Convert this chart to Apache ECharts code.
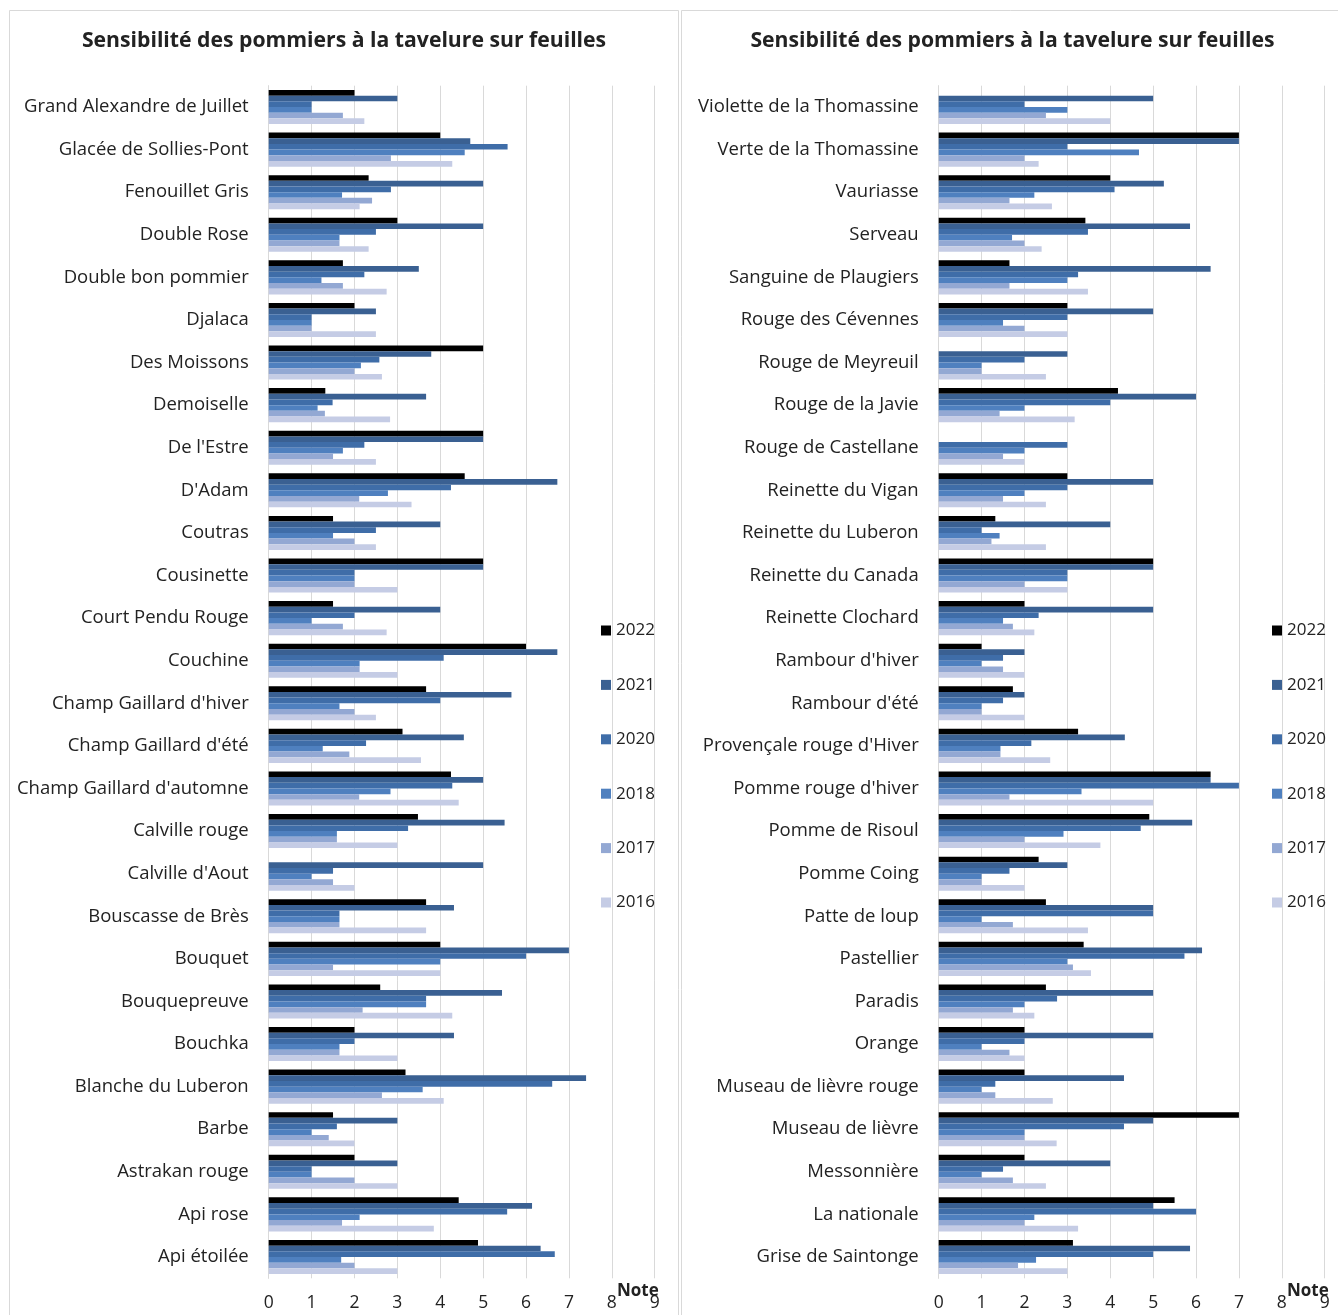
<!DOCTYPE html>
<html>
<head>
<meta charset="utf-8">
<script src="https://cdn.jsdelivr.net/npm/echarts@6/dist/echarts.min.js"></script>
<style>
  html, body { margin: 0; padding: 0; background: #ffffff; }
  #chart { width: 1338px; height: 1315px; }
</style>
</head>
<body>
<div id="chart"></div>
<script>
// Scab sensitivity scores (note 0-9) on apple leaves, per variety and year.
const years = ['2022', '2021', '2020', '2018', '2017', '2016'];
const noteTicks = [0, 1, 2, 3, 4, 5, 6, 7, 8, 9];

const leftVarieties = [
  'Grand Alexandre de Juillet', 'Glacée de Sollies-Pont', 'Fenouillet Gris', 'Double Rose',
  'Double bon pommier', 'Djalaca', 'Des Moissons', 'Demoiselle', "De l'Estre", "D'Adam",
  'Coutras', 'Cousinette', 'Court Pendu Rouge', 'Couchine', "Champ Gaillard d'hiver",
  "Champ Gaillard d'été", "Champ Gaillard d'automne", 'Calville rouge', "Calville d'Aout",
  'Bouscasse de Brès', 'Bouquet', 'Bouquepreuve', 'Bouchka', 'Blanche du Luberon',
  'Barbe', 'Astrakan rouge', 'Api rose', 'Api étoilée'
];
const left2022 = [2.0, 4.0, 2.33, 3.0, 1.73, 2.0, 5.0, 1.32, 5.0, 4.57, 1.5, 5.0, 1.5, 6.0, 3.67, 3.12, 4.25, 3.48, null, 3.67, 4.0, 2.6, 2.0, 3.19, 1.5, 2.0, 4.43, 4.88];
const left2021 = [3.0, 4.7, 5.0, 5.0, 3.5, 2.5, 3.79, 3.67, 5.0, 6.73, 4.0, 5.0, 4.0, 6.73, 5.66, 4.55, 5.0, 5.5, 5.0, 4.32, 7.0, 5.44, 4.32, 7.4, 3.0, 3.0, 6.14, 6.34];
const left2020 = [1.0, 5.57, 2.85, 2.5, 2.23, 1.0, 2.58, 1.49, 2.23, 4.25, 2.5, 2.0, 2.0, 4.08, 4.0, 2.27, 4.28, 3.25, 1.5, 1.65, 6.0, 3.67, 2.0, 6.61, 1.59, 1.0, 5.56, 6.67];
const left2018 = [1.0, 4.57, 1.71, 1.65, 1.23, 1.0, 2.15, 1.14, 1.73, 2.78, 1.5, 2.0, 1.0, 2.12, 1.65, 1.26, 2.84, 1.59, 1.0, 1.65, 4.0, 3.67, 1.65, 3.59, 1.0, 1.0, 2.12, 1.69];
const left2017 = [1.73, 2.85, 2.41, 1.65, 1.73, 1.0, 2.0, 1.31, 1.5, 2.11, 2.0, 2.0, 1.73, 2.12, 2.0, 1.88, 2.11, 1.59, 1.5, 1.65, 1.5, 2.19, 1.65, 2.64, 1.4, 2.0, 1.71, 2.0];
const left2016 = [2.23, 4.28, 2.12, 2.33, 2.75, 2.5, 2.64, 2.83, 2.5, 3.33, 2.5, 3.0, 2.75, 3.0, 2.5, 3.55, 4.43, 3.0, 2.0, 3.67, 4.0, 4.28, 3.0, 4.08, 2.0, 3.0, 3.85, 3.0];

const rightVarieties = [
  'Violette de la Thomassine', 'Verte de la Thomassine', 'Vauriasse', 'Serveau',
  'Sanguine de Plaugiers', 'Rouge des Cévennes', 'Rouge de Meyreuil', 'Rouge de la Javie',
  'Rouge de Castellane', 'Reinette du Vigan', 'Reinette du Luberon', 'Reinette du Canada',
  'Reinette Clochard', "Rambour d'hiver", "Rambour d'été", "Provençale rouge d'Hiver",
  "Pomme rouge d'hiver", 'Pomme de Risoul', 'Pomme Coing', 'Patte de loup', 'Pastellier',
  'Paradis', 'Orange', 'Museau de lièvre rouge', 'Museau de lièvre', 'Messonnière',
  'La nationale', 'Grise de Saintonge'
];
const right2022 = [null, 7.0, 4.0, 3.42, 1.65, 3.0, null, 4.18, null, 3.0, 1.32, 5.0, 2.0, 1.0, 1.73, 3.25, 6.34, 4.91, 2.33, 2.5, 3.38, 2.5, 2.0, 2.0, 7.0, 2.0, 5.5, 3.13];
const right2021 = [5.0, 7.0, 5.25, 5.86, 6.34, 5.0, 3.0, 6.0, null, 5.0, 4.0, 5.0, 5.0, 2.0, 2.0, 4.34, 6.34, 5.91, 3.0, 5.0, 6.14, 5.0, 5.0, 4.32, 5.0, 4.0, 5.0, 5.86];
const right2020 = [2.0, 3.0, 4.1, 3.48, 3.25, 3.0, 2.0, 4.0, 3.0, 3.0, 1.0, 3.0, 2.33, 1.5, 1.5, 2.16, 7.0, 4.71, 1.65, 5.0, 5.73, 2.76, 2.0, 1.32, 4.32, 1.5, 6.0, 5.0];
const right2018 = [3.0, 4.67, 2.23, 1.71, 3.0, 1.5, 1.0, 2.0, 2.0, 2.0, 1.42, 3.0, 1.5, 1.0, 1.0, 1.44, 3.33, 2.91, 1.0, 1.0, 3.0, 2.0, 1.0, 1.0, 2.0, 1.0, 2.23, 2.27];
const right2017 = [2.5, 2.0, 1.65, 2.0, 1.65, 2.0, 1.0, 1.42, 1.5, 1.5, 1.23, 2.0, 1.73, 1.5, 1.0, 1.44, 1.65, 2.0, 1.0, 1.73, 3.13, 1.73, 1.65, 1.32, 2.0, 1.73, 2.0, 1.85];
const right2016 = [4.0, 2.33, 2.64, 2.4, 3.48, 3.0, 2.5, 3.17, 2.0, 2.5, 2.5, 3.0, 2.23, 2.0, 2.0, 2.6, 5.0, 3.77, 2.0, 3.48, 3.55, 2.23, 2.0, 2.66, 2.75, 2.5, 3.25, 3.0];

const titleText = 'Sensibilité des pommiers à la tavelure sur feuilles';
const axisUnit = 'Note';

// ---- styling ----
const FONT = '"Open Sans", "Noto Sans", sans-serif';
const TEXT = '#222222';
const GRID_LINE = '#d9d9d9';
const yearColors = ['#000000', '#3a6092', '#3f6da8', '#4f80bf', '#93a8d3', '#c5cce5'];

const leftValues = [left2022, left2021, left2020, left2018, left2017, left2016];
const rightValues = [right2022, right2021, right2020, right2018, right2017, right2016];

const gridTop = 85.7, gridHeight = 1192.6, plotWidth = 386;
const panels = [
  { gridLeft: 268.7, categories: leftVarieties, values: leftValues, boxX: 9.5, boxW: 669, legendX: 596 },
  { gridLeft: 938.7, categories: rightVarieties, values: rightValues, boxX: 681.5, boxW: 662, legendX: 1267 }
];

const grid = [], xAxis = [], yAxis = [], series = [], legend = [], graphic = [];

panels.forEach((p, i) => {
  grid.push({ left: p.gridLeft, top: gridTop, width: plotWidth, height: gridHeight, containLabel: false });
  xAxis.push({
    type: 'value', gridIndex: i, min: noteTicks[0], max: noteTicks[noteTicks.length - 1], interval: 1,
    axisLine: { show: false }, axisTick: { show: false },
    splitLine: { show: true, lineStyle: { color: GRID_LINE, width: 1 } },
    axisLabel: { fontFamily: FONT, fontSize: 17.5, color: TEXT, margin: 16 }
  });
  yAxis.push({
    type: 'category', gridIndex: i, data: p.categories, inverse: true,
    axisLine: { show: true, lineStyle: { color: GRID_LINE } },
    axisTick: { show: false },
    axisLabel: { fontFamily: FONT, fontSize: 18.5, color: TEXT, margin: 20, padding: [3, 0, 0, 0] }
  });
  years.forEach((y, k) => {
    series.push({
      name: y, type: 'bar', xAxisIndex: i, yAxisIndex: i,
      data: p.values[k],
      itemStyle: { color: yearColors[k] },
      barGap: '0%', barCategoryGap: '20%',
      emphasis: { disabled: true }
    });
  });
  legend.push({
    data: years, orient: 'vertical', left: p.legendX, top: 617,
    itemWidth: 10, itemHeight: 10, itemGap: 37.4, icon: 'rect',
    textStyle: { fontFamily: FONT, fontSize: 17, color: TEXT }
  });
  graphic.push({
    type: 'rect', silent: true, z: -1,
    shape: { x: p.boxX, y: 10.5, width: p.boxW, height: 1330 },
    style: { fill: 'none', stroke: GRID_LINE, lineWidth: 1 }
  });
  graphic.push({
    type: 'text', silent: true,
    style: {
      x: p.boxX + p.boxW / 2, y: 41, text: titleText, textAlign: 'center', textVerticalAlign: 'middle',
      fontFamily: FONT, fontWeight: 'bold', fontSize: 21.2, fill: TEXT
    }
  });
  graphic.push({
    type: 'text', silent: true,
    style: {
      x: p.gridLeft + plotWidth + 4, y: 1291, text: axisUnit, textAlign: 'right', textVerticalAlign: 'middle',
      fontFamily: FONT, fontWeight: 'bold', fontSize: 17, fill: TEXT
    }
  });
});

const chart = echarts.init(document.getElementById('chart'), null, { renderer: 'canvas' });
chart.setOption({
  backgroundColor: '#ffffff',
  animation: false,
  grid, xAxis, yAxis, series, legend, graphic
});
</script>
</body>
</html>
